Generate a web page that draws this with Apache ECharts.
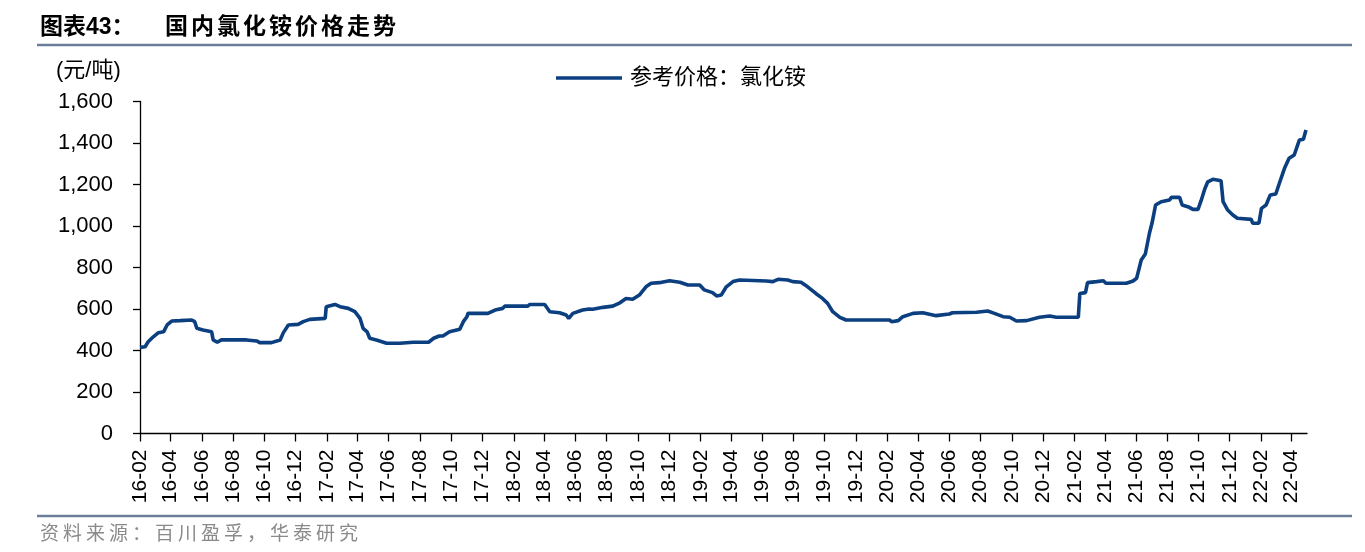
<!DOCTYPE html>
<html>
<head>
<meta charset="utf-8">
<script src="https://cdn.jsdelivr.net/npm/echarts@6/dist/echarts.min.js"></script>
<style>
html,body{margin:0;padding:0;background:#fff;}
#chart{width:1365px;height:552px;}
</style>
</head>
<body>
<div id="chart"></div>
<script>
// ---- data ----
const titleLead = '图表43：';
const titleMain = '国内氯化铵价格走势';
const sourceText = '资料来源：百川盈孚，华泰研究';
const unitText = '(元/吨)';
const seriesName = '参考价格：氯化铵';
const tickLabels = ['16-02','16-04','16-06','16-08','16-10','16-12','17-02','17-04','17-06','17-08','17-10','17-12',
  '18-02','18-04','18-06','18-08','18-10','18-12','19-02','19-04','19-06','19-08','19-10','19-12',
  '20-02','20-04','20-06','20-08','20-10','20-12','21-02','21-04','21-06','21-08','21-10','21-12','22-02','22-04'];
const yTicks = [0,200,400,600,800,1000,1200,1400,1600];
const dates = [
 '2016-02-01','2016-02-11','2016-02-17','2016-02-27','2016-03-08','2016-03-18','2016-03-25','2016-04-03','2016-04-19','2016-05-12',
 '2016-05-18','2016-05-22','2016-06-03','2016-06-20','2016-06-23','2016-07-01','2016-07-09','2016-08-27','2016-09-16','2016-09-22',
 '2016-10-15','2016-11-01','2016-11-07','2016-11-17','2016-12-06','2016-12-16','2016-12-29','2017-01-28','2017-01-30','2017-02-16',
 '2017-02-26','2017-03-14','2017-03-27','2017-04-06','2017-04-12','2017-04-20','2017-04-25','2017-05-08','2017-05-28','2017-06-23',
 '2017-07-19','2017-08-18','2017-08-28','2017-09-08','2017-09-15','2017-09-28','2017-10-18','2017-10-25','2017-11-01','2017-11-03',
 '2017-12-12','2017-12-26','2018-01-10','2018-01-14','2018-02-28','2018-03-04','2018-04-02','2018-04-12','2018-05-01','2018-05-14',
 '2018-05-19','2018-05-27','2018-06-15','2018-06-28','2018-07-05','2018-07-25','2018-08-13','2018-08-27','2018-09-08','2018-09-21',
 '2018-10-04','2018-10-17','2018-10-27','2018-11-12','2018-12-02','2018-12-22','2019-01-07','2019-01-30','2019-02-08','2019-02-24',
 '2019-03-04','2019-03-13','2019-03-23','2019-04-05','2019-04-18','2019-06-09','2019-06-22','2019-07-02','2019-07-21','2019-07-31',
 '2019-08-16','2019-08-29','2019-09-14','2019-09-27','2019-10-07','2019-10-17','2019-10-31','2019-11-12','2020-02-05','2020-02-09',
 '2020-02-22','2020-03-02','2020-03-22','2020-04-10','2020-05-06','2020-06-01','2020-06-07','2020-07-24','2020-08-15','2020-08-28',
 '2020-09-14','2020-09-27','2020-10-10','2020-10-30','2020-11-24','2020-12-14','2020-12-27','2021-02-08','2021-02-11','2021-02-22',
 '2021-02-26','2021-03-16','2021-03-29','2021-04-03','2021-05-13','2021-05-26','2021-06-02','2021-06-11','2021-06-19','2021-06-27',
 '2021-07-02','2021-07-09','2021-07-20','2021-08-05','2021-08-09','2021-08-25','2021-08-30','2021-09-13','2021-09-20','2021-09-30',
 '2021-10-06','2021-10-13','2021-10-19','2021-10-29','2021-11-14','2021-11-18','2021-11-27','2021-12-07','2021-12-16','2022-01-12',
 '2022-01-15','2022-01-27','2022-02-01','2022-02-10','2022-02-18','2022-03-01','2022-03-08','2022-03-18','2022-03-27','2022-04-06',
 '2022-04-16','2022-04-24','2022-04-29'
];
const prices = [
 415,418,442,466,486,490,523,542,544,547,
 539,507,499,490,451,440,451,451,446,438,
 438,451,485,523,526,539,550,555,611,622,
 611,603,587,555,507,490,459,451,435,435,
 440,440,459,470,470,490,502,539,563,579,
 579,595,603,614,614,622,622,587,582,571,
 555,579,595,600,599,608,614,630,651,647,
 667,707,724,727,736,729,716,716,692,679,
 663,667,707,732,740,735,732,743,740,732,
 729,707,675,651,627,587,560,547,547,539,
 544,563,579,582,568,576,582,584,590,579,
 563,560,542,544,560,566,560,560,675,679,
 727,732,736,724,724,735,748,836,865,965,
 1013,1101,1117,1125,1138,1138,1101,1090,1080,1080,
 1122,1177,1213,1225,1218,1117,1077,1053,1037,1032,
 1013,1013,1085,1101,1149,1154,1206,1278,1326,1342,
 1414,1418,1463
];
const axisMin = '2016-02-01';
const axisMax = '2022-05-01';

// ---- build ----
function parseDay(s){ const p = s.split('-').map(Number); return Date.UTC(p[0], p[1]-1, p[2]||1); }
const tickValues = tickLabels.map(l => { const p = l.split('-'); return Date.UTC(2000 + Number(p[0]), Number(p[1]) - 1, 1); });
const seriesData = dates.map((d, i) => [parseDay(d), prices[i]]);

const lineColor = '#0b3f80';
const cjk = "'Liberation Sans','Noto Sans CJK SC',sans-serif";

const graphics = [];
graphics.push({type:'text', left:40, top:16, style:{text:titleLead, font:"bold 23px " + cjk, fill:'#000'}});
Array.from(titleMain).forEach((ch, i) => {
  graphics.push({type:'text', left:165 + i*26, top:16, style:{text:ch, font:"bold 23px " + cjk, fill:'#000'}});
});
graphics.push({type:'line', shape:{x1:37,y1:45,x2:1352,y2:45}, style:{stroke:'#6b7f9b', lineWidth:2.5}});
graphics.push({type:'line', shape:{x1:37,y1:516,x2:1352,y2:516}, style:{stroke:'#6b7f9b', lineWidth:2.5}});
Array.from(sourceText).forEach((ch, i) => {
  graphics.push({type:'text', left:40 + i*23, top:525, style:{text:ch, font:"19px " + cjk, fill:'#8a8a8a'}});
});
graphics.push({type:'text', left:56, top:60, style:{text:unitText, font:"22px " + cjk, fill:'#000'}});

const chart = echarts.init(document.getElementById('chart'), null, {renderer:'canvas'});
chart.setOption({
  animation:false,
  backgroundColor:'#fff',
  textStyle:{fontFamily:cjk},
  grid:{left:140, right:58, top:101.5, bottom:118.5},
  legend:{
    data:[seriesName], left:551, top:62, icon:'rect', itemWidth:66, itemHeight:3.5, itemGap:0,
    textStyle:{fontSize:22, color:'#000', fontFamily:cjk, padding:[0,0,0,3]}
  },
  xAxis:{
    type:'value', min:parseDay(axisMin), max:parseDay(axisMax),
    axisLine:{show:true, onZero:false, lineStyle:{color:'#000', width:1.3}},
    axisTick:{show:true, length:8, inside:false, customValues:tickValues, lineStyle:{color:'#000', width:1.3}},
    axisLabel:{
      customValues:tickValues, rotate:90, margin:16, fontSize:21, color:'#000',
      fontFamily:"'Liberation Sans',Arial,sans-serif",
      formatter:function(v){ const i = tickValues.indexOf(Number(v)); return i >= 0 ? tickLabels[i] : ''; }
    },
    splitLine:{show:false}
  },
  yAxis:{
    type:'value', min:yTicks[0], max:yTicks[yTicks.length-1], interval:yTicks[1]-yTicks[0],
    axisLine:{show:true, lineStyle:{color:'#000', width:1.3}},
    axisTick:{show:true, length:7, lineStyle:{color:'#000', width:1.3}},
    axisLabel:{margin:27, fontSize:22, color:'#000', fontFamily:"'Liberation Sans',Arial,sans-serif",
      formatter:function(v){ return Number(v).toLocaleString('en-US'); }},
    splitLine:{show:false}
  },
  series:[{
    name:seriesName, type:'line', data:seriesData, showSymbol:false, symbol:'none',
    lineStyle:{color:lineColor, width:3.6}, itemStyle:{color:lineColor}
  }],
  graphic:graphics
});
</script>
</body>
</html>
